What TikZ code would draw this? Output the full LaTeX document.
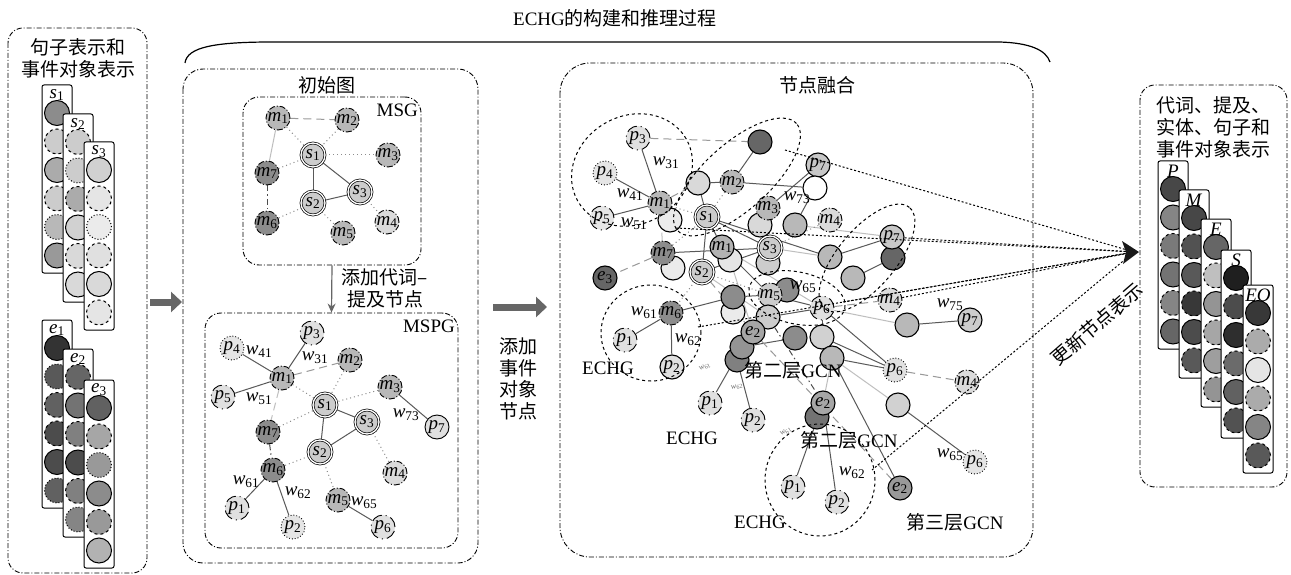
\documentclass[tikz,border=0pt]{standalone}
\usepackage{fontspec}
\setmainfont{Liberation Serif}
\newfontfamily\cjk{Noto Sans CJK SC}
\usetikzlibrary{arrows.meta,shapes.geometric}
\pgfdeclarelayer{bg}
\pgfsetlayers{bg,main}
\newcommand\nd[2]{\textit{#1}\textsubscript{#2}}
\newcommand\vecol[5]{%
  \draw[vbox] ({#2-15},{#3-28}) rectangle ({#2+15},{#3+160});
  \foreach \c/\d [count=\i] in {#5}{\node[vc,fill=black!\c,\d] (#1c\i) at (#2,{#3+28.5*(\i-1)}) {};}
  \node[vlab] (#1l) at (#2,{#3-18}) {#4};
}
\tikzset{
  vbox/.style={draw,line width=1pt,rounded corners=2pt,fill=white},
  vc/.style={circle,draw,line width=1pt,minimum size=25pt,inner sep=0pt},
  vlab/.style={font=\fontsize{19}{19}\selectfont,inner sep=0pt},
  pnl/.style={draw,line width=0.9pt,dash pattern=on 5pt off 2pt on 1pt off 2pt},
  gn/.style={circle,draw,line width=0.9pt,minimum size=24pt,inner sep=0pt,font=\fontsize{19}{19}\selectfont},
  cn/.style={gn,line width=1.1pt},
  pn/.style={gn,fill=black!12,dash pattern=on 11pt off 4pt on 1pt off 4pt},
  pd/.style={gn,fill=black!10,dotted},
  mn/.style={gn,fill=black!28,dash pattern=on 6pt off 2pt on 1pt off 2pt},
  md/.style={mn,fill=black!45},
  ml/.style={mn,fill=black!14},
  sn/.style={gn,fill=black!20,double,double distance=1.3pt,line width=0.7pt},
  es/.style={draw=black!65,line width=1pt},
  el/.style={draw=black!25,line width=1pt},
  ed/.style={draw=black!40,line width=1pt,dash pattern=on 8pt off 5pt},
  edd/.style={draw=black!70,line width=1pt,dash pattern=on 6pt off 3pt on 1.5pt off 3pt},
  et/.style={draw=black!45,line width=1pt,dash pattern=on 1pt off 3pt},
  tl/.style={draw=black,line width=1pt,dash pattern=on 2pt off 2pt},
  ov/.style={ellipse,draw,line width=1pt,dashed,inner sep=0pt},
  lbl/.style={font=\fontsize{19}{19}\selectfont,inner sep=0pt},
  ttl/.style={font=\cjk\fontsize{19}{22}\selectfont,align=center,inner sep=0pt},
  lat/.style={font=\fontsize{19}{19}\selectfont,inner sep=0pt},
  tiny/.style={font=\fontsize{8}{8}\selectfont,inner sep=0pt,text=black!60},
  bigarrow/.style={draw=black!60,line width=7pt,-{Triangle[length=11pt,width=20pt]}},
  gbox/.style={draw,line width=0.9pt,dash pattern=on 5pt off 2pt on 1pt off 2pt,rounded corners=16pt},
}
\begin{document}
\begin{tikzpicture}[x=1pt,y=-1pt]
\useasboundingbox (0,0) rectangle (1291,575);
\begin{pgfonlayer}{bg}
\fill[white] (0,0) rectangle (1291,575);
\end{pgfonlayer}

% ---------- left panel ----------
\draw[pnl,rounded corners=15pt] (8,28) rectangle (147,573);
\node[ttl] (lt) at (78,58) {句子表示和\\事件对象表示};
\vecol{s1}{57}{113}{\nd s1}{45/solid,20/dashed,33/solid,20/dashed,28/dotted,40/solid}
\vecol{s2}{78}{142}{\nd s2}{20/dashed,20/dotted,33/dashed,18/solid,15/dashed,15/solid}
\vecol{s3}{99}{170}{\nd s3}{18/solid,10/dashed,8/dotted,12/dashed,15/solid,10/dashed}
\vecol{e1}{57}{348}{\nd e1}{80/solid,65/dotted,62/dashed,70/dashed,70/solid,62/dotted}
\vecol{e2}{78}{377}{\nd e2}{60/dashed,55/solid,50/dashed,70/solid,50/dashed,48/dotted}
\vecol{e3}{99}{408}{\nd e3}{62/solid,35/dashed,40/dotted,45/solid,40/dashed,30/solid}

\coordinate (a1s) at (150,302);
\coordinate (a1e) at (182,302);
\draw[bigarrow] (a1s) -- (a1e);

% ---------- top brace ----------
\coordinate (b1) at (185,63);
\coordinate (b2) at (1050,62);
\draw[line width=1.2pt] (b1) .. controls (187,47) and (215,42) .. (272,42) -- (1000,42) .. controls (1030,43) and (1046,50) .. (b2);
\node[lat] (top) at (615,18) {ECHG{\cjk 的构建和推理过程}};

% ---------- initial graph panel ----------
\draw[pnl,rounded corners=20pt] (183,69) rectangle (478,563);
\node[ttl] (t1) at (327,85) {初始图};
\node[gbox,minimum width=178pt,minimum height=168pt] (MSG) at (332,181) {};
\node[lat,anchor=north east] (msgl) at (418,104) {MSG};
\node[gbox,minimum width=253pt,minimum height=235pt] (MSPG) at (331.5,430.5) {};
\node[lat,anchor=north east] (mspgl) at (455,320) {MSPG};
\draw[draw=black!60,line width=1.2pt,-{Stealth[length=9pt,width=8pt]}] (MSG.south) -- (MSPG.north);
\node[ttl] (t2) at (385,288) {添加代词–\\提及节点};

% MSG nodes
\node[mn] (Am1) at (278,118) {\nd m1};
\node[mn] (Am2) at (347,120) {\nd m2};
\node[sn] (As1) at (313,155) {\nd s1};
\node[mn] (Am3) at (388,155) {\nd m3};
\node[md] (Am7) at (267,173) {\nd m7};
\node[sn] (As3) at (360,192) {\nd s3};
\node[sn] (As2) at (313,203) {\nd s2};
\node[md] (Am6) at (267,223) {\nd m6};
\node[ml] (Am4) at (387,222) {\nd m4};
\node[mn] (Am5) at (343,233) {\nd m5};

% MSPG nodes
\node[pn] (Bp3) at (312,333) {\nd p3};
\node[pd] (Bp4) at (232,348) {\nd p4};
\node[mn] (Bm2) at (350,360) {\nd m2};
\node[mn] (Bm1) at (282,378) {\nd m1};
\node[mn] (Bm3) at (390,387) {\nd m3};
\node[pn] (Bp5) at (223,397) {\nd p5};
\node[sn] (Bs1) at (325,405) {\nd s1};
\node[sn] (Bs3) at (367,422) {\nd s3};
\node[md] (Bm7) at (268,432) {\nd m7};
\node[gn,fill=black!12] (Bp7) at (437,427) {\nd p7};
\node[sn] (Bs2) at (320,452) {\nd s2};
\node[md] (Bm6) at (273,470) {\nd m6};
\node[ml] (Bm4) at (395,473) {\nd m4};
\node[mn] (Bm5) at (338,500) {\nd m5};
\node[pn] (Bp1) at (237,508) {\nd p1};
\node[pd] (Bp2) at (293,527) {\nd p2};
\node[pn] (Bp6) at (383,527) {\nd p6};
\node[lbl] (Bw41) at (259,352) {\nd w{41}};
\node[lbl] (Bw31) at (315,358) {\nd w{31}};
\node[lbl] (Bw51) at (259,399) {\nd w{51}};
\node[lbl] (Bw73) at (406,415) {\nd w{73}};
\node[lbl] (Bw61) at (246,482) {\nd w{61}};
\node[lbl] (Bw62) at (298,493) {\nd w{62}};
\node[lbl] (Bw65) at (364,503) {\nd w{65}};

% middle arrow
\coordinate (a2s) at (493,307);
\coordinate (a2e) at (547,307);
\draw[bigarrow] (a2s) -- (a2e);
\node[ttl,font=\cjk\fontsize{19}{21.5}\selectfont] (t3) at (518,379) {添加\\事件\\对象\\节点};

% ---------- fusion panel ----------
\draw[pnl,rounded corners=30pt] (560,63) rectangle (1033,557);
\node[ttl] (t4) at (817,85) {节点融合};

\node[pn] (Fp3) at (638,138) {\nd p3};
\node[cn,fill=black!60] (Fdk1) at (760,142) {};
\node[pd] (Fp4) at (605,173) {\nd p4};
\node[cn,fill=black!15] (Fw1) at (698,183) {};
\node[mn] (Fm2) at (732,182) {\nd m2};
\node[cn,fill=black!8] (Fw2) at (670,220) {};
\node[mn] (Fm1) at (660,203) {\nd m1};
\node[pn,fill=black!10] (Fp5) at (602,218) {\nd p5};
\node[sn] (Fs1) at (707,217) {\nd s1};
\node[cn,fill=black!22] (Fp7a) at (818,165) {\nd p7};
\node[cn,fill=white] (Fw3) at (815,188) {};
\node[cn,fill=black!15] (Fc1) at (760,225) {};
\node[mn] (Fm3) at (768,208) {\nd m3};
\node[cn,fill=black!28] (Fc2) at (795,225) {};
\node[ml] (Fm4a) at (830,220) {\nd m4};
\node[cn,fill=black!8] (Fc3) at (673,268) {};
\node[md] (Fm7) at (663,253) {\nd m7};
\node[cn,fill=black!10] (Fc4) at (730,260) {};
\node[cn,fill=black!30] (Fm1b) at (722,247) {\nd m1};
\node[cn,fill=black!20] (Fc5) at (768,263) {};
\node[sn] (Fs3) at (770,248) {\nd s3};
\node[sn] (Fs2) at (702,272) {\nd s2};
\node[cn,fill=black!60] (Fe3) at (605,278) {\nd e3};
\node[cn,fill=black!60] (Fdk2) at (893,258) {};
\node[cn,fill=black!22] (Fp7b) at (892,237) {\nd p7};
\node[cn,fill=black!28] (Fc6) at (830,257) {};
\node[cn,fill=black!28] (Fc7) at (853,278) {};
\node[cn,fill=black!45] (Fdk3) at (787,290) {};
\node[mn,fill=black!20] (Fm5) at (770,295) {\nd m5};
\node[pn] (Fp6) at (822,308) {\nd p6};
\node[ml] (Fm4b) at (890,300) {\nd m4};
\node[cn,fill=black!28] (Fc8) at (907,325) {};
\node[cn,fill=black!20] (Fp7c) at (970,320) {\nd p7};
\node[md] (Fm6) at (671,313) {\nd m6};
\node[pn] (Fp1a) at (625,340) {\nd p1};
\node[cn,fill=black!12] (Fp2a) at (672,367) {\nd p2};
\node[cn,fill=black!8] (Fc10) at (733,312) {};
\node[cn,fill=black!45] (Fc9) at (733,297) {};
\node[cn,fill=black!20] (Fc11) at (768,317) {};
\node[cn,fill=black!50] (Fc15) at (737,360) {};
\node[cn,fill=black!42] (Fc14) at (742,347) {};
\node[cn,fill=black!35] (Fe2a) at (753,332) {\nd e2};
\node[cn,fill=black!45] (Fdk4) at (795,338) {};
\node[cn,fill=black!18] (Fc12) at (822,337) {};
\node[cn,fill=black!28] (Fc13) at (832,358) {};
\node[pd,fill=black!12] (Fp6b) at (895,370) {\nd p6};
\node[ml] (Fm4c) at (967,382) {\nd m4};
\node[cn,fill=black!18] (Fc16) at (898,405) {};
\node[pn] (Fp1b) at (710,403) {\nd p1};
\node[pn] (Fp2b) at (753,420) {\nd p2};
\node[cn,fill=black!55] (Fdk5) at (817,417) {};
\node[cn,fill=black!35] (Fe2b) at (823,403) {\nd e2};
\node[pn] (Fp1c) at (793,487) {\nd p1};
\node[pn] (Fp2c) at (837,502) {\nd p2};
\node[cn,fill=black!40] (Fe2c) at (900,488) {\nd e2};
\node[pd] (Fp6c) at (975,462) {\nd p6};

\node[lbl] (Fw31) at (666,163) {\nd w{31}};
\node[lbl] (Fw41) at (630,195) {\nd w{41}};
\node[lbl] (Fw51) at (634,224) {\nd w{51}};
\node[lbl] (Fw73) at (797,198) {\nd w{73}};
\node[lbl] (Fw65) at (803,287) {\nd w{65}};
\node[lbl] (Fw61) at (644,313) {\nd w{61}};
\node[lbl] (Fw62) at (688,340) {\nd w{62}};
\node[lbl] (Fw75) at (950,305) {\nd w{75}};
\node[lbl] (Fw62b) at (852,473) {\nd w{62}};
\node[lbl] (Fw65b) at (950,455) {\nd w{65}};
\node[tiny,rotate=25] (Ft1) at (705,367) {\nd w{61}};
\node[tiny,rotate=10] (Ft2) at (737,387) {\nd w{62}};
\node[tiny,rotate=30] (Ft3) at (786,432) {\nd w{61}};

\node[lat] (Fe1l) at (608,368) {ECHG};
\node[lat] (Fe2l) at (692,438) {ECHG};
\node[lat] (Fe3l) at (760,522) {ECHG};
\node[lat] (Fg1) at (793,370) {{\cjk 第二层}GCN};
\node[lat] (Fg2) at (849,440) {{\cjk 第二层}GCN};
\node[lat] (Fg3) at (955,522) {{\cjk 第三层}GCN};

\node[ov,minimum width=125pt,minimum height=108pt,rotate=30] (E1) at (632,170) {};
\node[ov,minimum width=160pt,minimum height=66pt,rotate=42] (E2) at (737,177) {};
\node[ov,minimum width=132pt,minimum height=58pt,rotate=50] (E3) at (867,258) {};
\node[ov,minimum width=98pt,minimum height=52pt,rotate=-12] (E4) at (797,298) {};
\node[ov,minimum width=100pt,minimum height=96pt] (E5) at (651,333) {};
\node[ov,minimum width=110pt,minimum height=112pt] (E6) at (820,480) {};

% convergence to update
\coordinate (tip) at (1134,252);
\coordinate (T1) at (785,150);
\coordinate (T2) at (676,228);
\coordinate (T4) at (698,327);
\coordinate (T5) at (843,302);
\coordinate (T7) at (872,470);
\draw[tl] (T1) -- (tip);
\draw[tl] (T2) -- (tip);
\draw[tl] (Fp7b) -- (tip);
\draw[tl] (T4) -- (tip);
\draw[tl] (T5) -- (tip);
\draw[tl] (Fm4b) -- (tip);
\draw[tl] (T7) -- (tip);
\fill[black!90] (1139,252) -- (1122,241) -- (1126,252) -- (1123,264) -- cycle;
\node[ttl,rotate=41] (upd) at (1097,324) {更新节点表示};

% ---------- right panel ----------
\draw[pnl,rounded corners=15pt] (1140,85) rectangle (1287,487);
\node[ttl] (rt) at (1213,127) {代词、提及、\\实体、句子和\\事件对象表示};
\vecol{P}{1173}{189}{\textit{P}}{72/solid,48/solid,52/dashed,55/solid,48/dashed,60/solid}
\vecol{M}{1194}{218}{\textit{M}}{72/solid,68/dashed,65/solid,78/dashed,70/solid,65/dashed}
\vecol{E}{1216}{247}{\textit{E}}{60/solid,25/dashed,42/solid,35/dashed,38/solid,42/dashed}
\vecol{S}{1236}{278}{\textit{S}}{88/solid,70/dashed,82/solid,58/dashed,62/solid,68/dashed}
\vecol{EO}{1258}{313}{\textit{EO}}{78/solid,33/dashed,10/solid,33/dashed,48/solid,65/dashed}

% ---------- edges (background) ----------
\begin{pgfonlayer}{bg}
\foreach \a/\b in {As1/As2,As1/As3,As2/As3} \draw[es] (\a) -- (\b);
\draw[ed] (Am1) -- (Am2);
\draw[el] (Am1) -- (Am7);
\draw[edd] (Am7) -- (Am6);
\foreach \a/\b in {Am1/As1,Am2/As1,As1/Am3,Am7/As1,As3/Am4,As2/Am6,As2/Am5} \draw[et] (\a) -- (\b);

\foreach \a/\b in {Bp3/Bm1,Bp4/Bm1,Bp5/Bm1,Bs1/Bs2,Bs1/Bs3,Bs2/Bs3,Bm3/Bp7,Bm6/Bp1,Bm6/Bp2,Bm5/Bp6} \draw[es] (\a) -- (\b);
\draw[ed] (Bm1) -- (Bm2);
\draw[ed,draw=black!25] (Bm1) -- (Bm7);
\draw[edd] (Bm7) -- (Bm6);
\foreach \a/\b in {Bm1/Bs1,Bm2/Bs1,Bm3/Bs1,Bm7/Bs1,Bs3/Bm4,Bs2/Bm6,Bs2/Bm5} \draw[et] (\a) -- (\b);

\foreach \a/\b in {Fp3/Fm1,Fp4/Fm1,Fp5/Fm1,Fdk1/Fm2,Fw1/Fm2,Fm2/Fw3,Fw1/Fs1,Fs1/Fs2,Fs1/Fm1b,Fs1/Fs3,Fm3/Fp7a,Fc2/Fw3,Fm7/Fs3,Fs2/Fs3,Fc6/Fp7b,Fc7/Fdk2,Fm6/Fp1a,Fm6/Fp2a,Fm6/Fc9,Fc9/Fm5,Fm5/Fp6,Fc11/Fp6,Fc14/Fp1b,Fc15/Fp2b,Fc14/Fdk4,Fe2b/Fp1c,Fe2b/Fp2c,Fc13/Fp6b,Fc12/Fp6b,Fp6/Fp6b,Fc8/Fp7c,Fc16/Fp6c,Fc13/Fe2c,Fm1b/Fm5,Fs1/Fc6,Fp6/Fc12,Fm7/Fc3,Fs3/Fc5}
  \draw[es] (\a) -- (\b);
\foreach \a/\b in {Fs3/Fc6,Fp6/Fc8,Fc13/Fc16,Fc13/Fe2b,Fs2/Fc11,Fc4/Fe2a,Fm1b/Fp6,Fc2/Fp7b}
  \draw[el] (\a) -- (\b);
\foreach \a/\b in {Fp3/Fdk1,Fm1/Fw1,Fm7/Fe3,Fp6/Fm4b,Fp6b/Fm4c,Fs2/Fe2a,Fe2a/Fe2c}
  \draw[ed] (\a) -- (\b);
\draw[ed,draw=black!25] (Fm7) -- (Fm1);
\draw[edd] (Fc11) -- (Fe2b);
\foreach \a/\b in {Fm1/Fs1,Fm7/Fs1,Fm2/Fs1,Fs3/Fm4a,Fs2/Fm6,Fs2/Fm5} \draw[et] (\a) -- (\b);
\end{pgfonlayer}
\end{tikzpicture}
\end{document}
